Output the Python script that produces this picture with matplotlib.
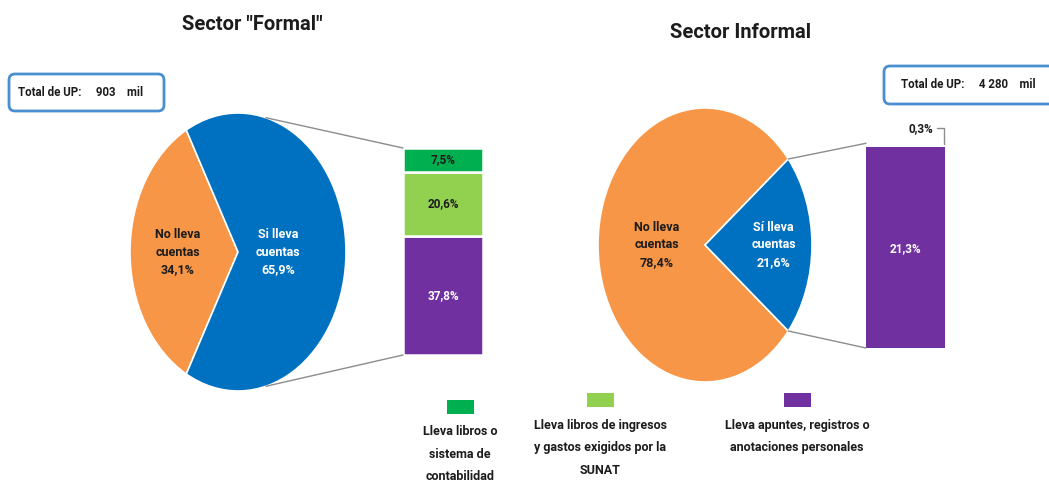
import numpy as np
import matplotlib
matplotlib.use("Agg")
import matplotlib.pyplot as plt
from matplotlib.patches import FancyBboxPatch, ConnectionPatch

plt.rcParams['font.family'] = ['Roboto', 'DejaVu Sans']
plt.rcParams['font.weight'] = 'bold'

W, H = 1049, 482

# data
pie_labels = ["No lleva\ncuentas", "lleva\ncuentas"]
formal_pie = [34.1, 65.9]
informal_pie = [78.4, 21.6]
formal_total = "903"
informal_total = "4 280"
bar_cats = ["Lleva libros o\nsistema de\ncontabilidad",
            "Lleva libros de ingresos\ny gastos exigidos por la\nSUNAT",
            "Lleva apuntes, registros o\nanotaciones personales"]
formal_bar = [37.8, 20.6, 7.5]   # bottom -> top: apuntes, libros SUNAT, libros/contabilidad
informal_bar = [21.3, 0.3]       # apuntes, libros/contabilidad

ORANGE = '#F79646'
BLUE = '#0070C0'
GREEN = '#00B050'
LGREEN = '#92D050'
PURPLE = '#7030A0'
DARK = '#1c1c1c'
GRAY = '#8c8c8c'


def px_rect(x0, y0, x1, y1):
    return [x0 / W, 1 - y1 / H, (x1 - x0) / W, (y1 - y0) / H]


def fmt(v):
    return f"{v:.1f}".replace('.', ',') + "%"


fig = plt.figure(figsize=(W / 100, H / 100), dpi=100)
base = fig.add_axes([0, 0, 1, 1])
base.set_xlim(0, W)
base.set_ylim(H, 0)
base.axis('off')


def draw_pie(rect, vals, start, lab_x, si_text):
    ax = fig.add_axes(px_rect(*rect))
    ax.pie(vals, colors=[ORANGE, BLUE], startangle=start, counterclock=True,
           wedgeprops=dict(edgecolor='white', linewidth=1.2))
    ax.set_aspect('auto')
    ax.set_xlim(-1, 1)
    ax.set_ylim(-1, 1)
    ax.axis('off')
    ax.text(lab_x[0], 0, pie_labels[0] + "\n" + fmt(vals[0]), ha='center', va='center',
            fontsize=9, color=DARK, linespacing=1.45)
    ax.text(lab_x[1], 0, si_text + " " + pie_labels[1] + "\n" + fmt(vals[1]), ha='center',
            va='center', fontsize=9, color='white', linespacing=1.45)
    return ax


def draw_bar(rect, vals, colors, label_colors, edge='white'):
    ax = fig.add_axes(px_rect(*rect))
    bottom = 0
    for v, c, lc in zip(vals, colors, label_colors):
        ax.bar(0.5, v, width=1, bottom=bottom, color=c, edgecolor=edge, linewidth=1.8)
        if lc is not None:
            ax.text(0.5, bottom + v / 2, fmt(v), ha='center', va='center', fontsize=8.5,
                    color=lc)
        bottom += v
    ax.set_xlim(0, 1)
    ax.set_ylim(0, sum(vals))
    ax.axis('off')
    return ax


# Sector formal
start_f = 180 - formal_pie[0] * 3.6 / 2
pie_f = draw_pie((130, 113, 346, 391), formal_pie, start_f, (-0.56, 0.37), "Si")
bar_f = draw_bar((403, 148, 483, 355), formal_bar, [PURPLE, LGREEN, GREEN],
                 ['white', DARK, DARK])
a = np.deg2rad(75)
for sgn, yb in [(1, sum(formal_bar)), (-1, 0)]:
    fig.add_artist(ConnectionPatch((np.cos(a), sgn * np.sin(a)), (0, yb),
                                   coordsA=pie_f.transData, coordsB=bar_f.transData,
                                   color=GRAY, lw=1))

# Sector informal
half = informal_pie[1] * 3.6 / 2
pie_i = draw_pie((598, 108, 812, 382), informal_pie, half, (-0.45, 0.64), "Sí")
bar_i = draw_bar((866, 147, 945, 348), informal_bar, [PURPLE, PURPLE], ['white', None],
                 edge='none')
a = np.deg2rad(half)
for sgn, yb in [(1, sum(informal_bar) + 0.4), (-1, 0)]:
    fig.add_artist(ConnectionPatch((np.cos(a), sgn * np.sin(a)), (0, yb),
                                   coordsA=pie_i.transData, coordsB=bar_i.transData,
                                   color=GRAY, lw=1))
bar_i.annotate(fmt(informal_bar[1]), xy=(0.99, sum(informal_bar) + 0.2),
               xytext=(-8, 12), textcoords='offset points', ha='right', va='center',
               fontsize=8.5, color=DARK, annotation_clip=False,
               arrowprops=dict(arrowstyle='-', color=GRAY, lw=1, relpos=(1, 0.5),
                               shrinkA=1, shrinkB=1,
                               connectionstyle='angle,angleA=0,angleB=90,rad=0'))

# titles
base.text(252, 25, 'Sector "Formal"', ha='center', va='center', fontsize=14.5, color=DARK)
base.text(741, 32, 'Sector Informal', ha='center', va='center', fontsize=14.5, color=DARK)

# totals
for (x0, y0, x1, y1), tx, total in [((9, 74, 164, 111), 18, formal_total),
                                     ((884, 66, 1060, 104), 901, informal_total)]:
    base.add_patch(FancyBboxPatch((x0, y0), x1 - x0, y1 - y0,
                                  boxstyle='round,pad=0,rounding_size=6',
                                  fc='white', ec='#4A90D0', lw=2))
    base.text(tx, (y0 + y1) / 2, f"Total de UP:     {total}    mil", ha='left',
              va='center', fontsize=8.3, color=DARK)

# legend
legend_items = [(GREEN, 460, 400, 432), (LGREEN, 600, 393, 426), (PURPLE, 797, 393, 426)]
for (c, cx, sy, ty), cat in zip(legend_items, bar_cats):
    base.add_patch(plt.Rectangle((cx - 13, sy), 27, 14, fc=c, ec='none'))
    base.text(cx, ty - 7, cat, ha='center', va='top', fontsize=9, color=DARK,
              linespacing=1.95)

fig.savefig("out.png", dpi=100)
